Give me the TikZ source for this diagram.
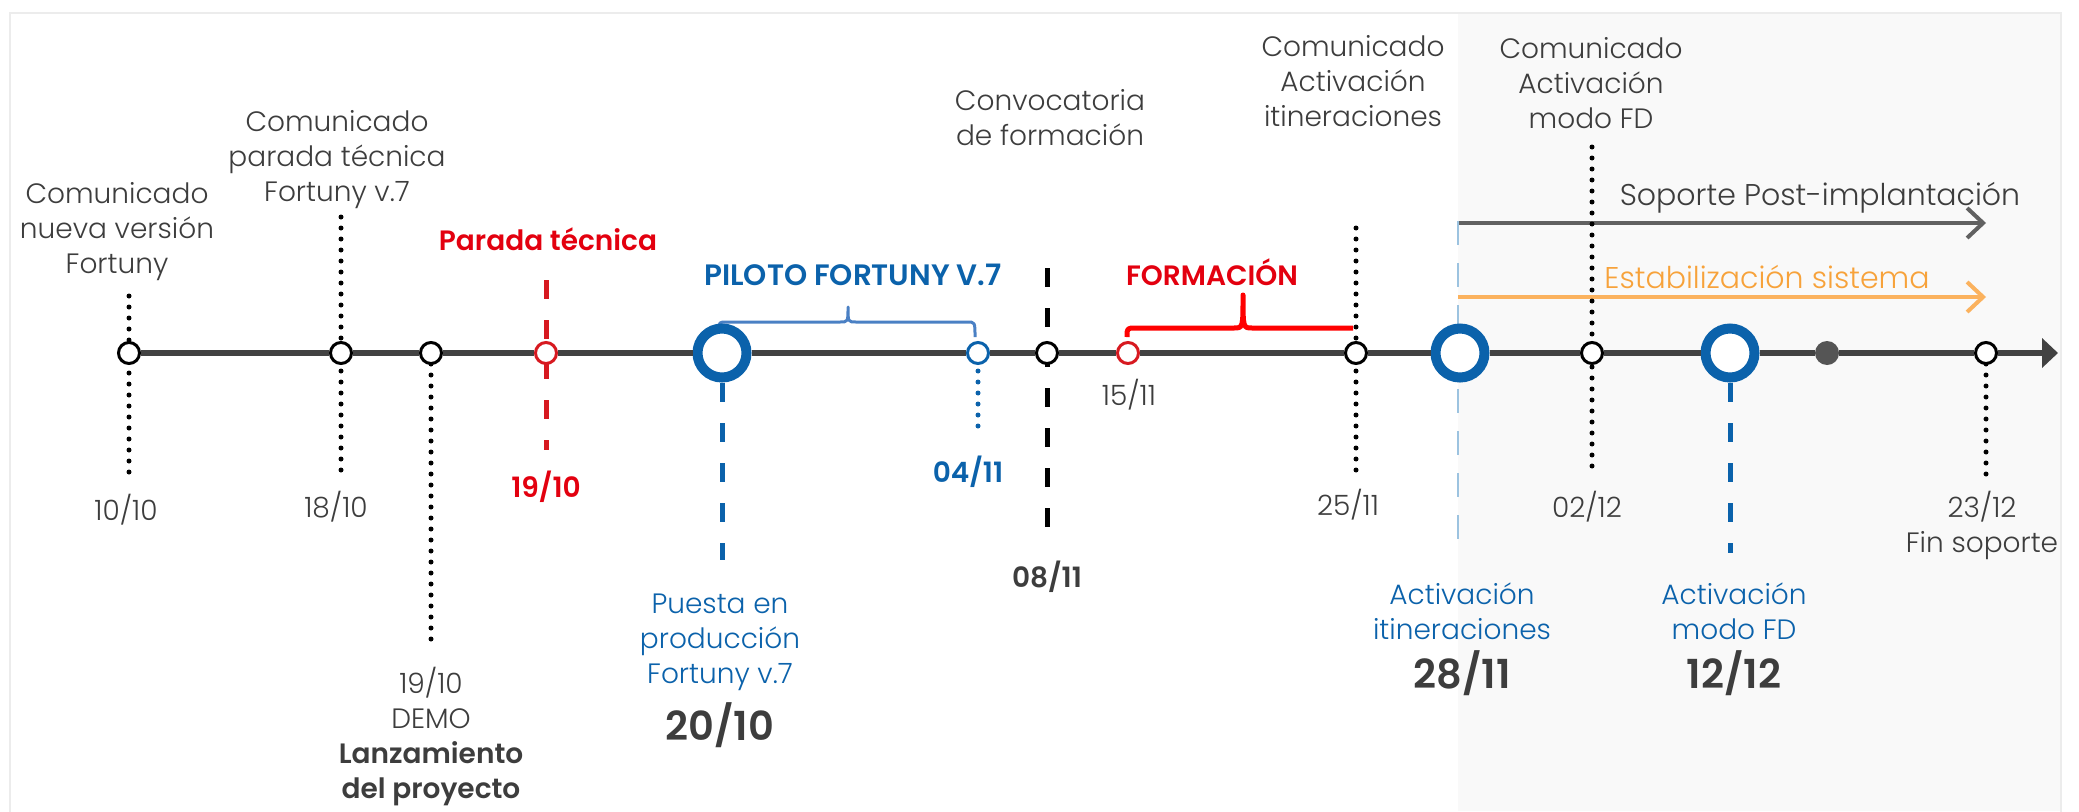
\documentclass[tikz,border=0pt]{standalone}
\usepackage{fontspec}
\setmainfont{Poppins}[UprightFont={* Light},BoldFont={* SemiBold}]
\usetikzlibrary{arrows.meta}
\definecolor{tgray}{HTML}{3D3D3D}
\definecolor{lgray}{HTML}{424242}
\definecolor{fblue}{HTML}{0B62AB}
\definecolor{bblue}{HTML}{4A80C4}
\definecolor{pale}{HTML}{9CC3E0}
\definecolor{tred}{HTML}{E3000F}
\definecolor{bred}{HTML}{FF0000}
\definecolor{cred}{HTML}{D71920}
\definecolor{orgt}{HTML}{F7A23A}
\definecolor{orga}{HTML}{FBB25E}
\definecolor{agray}{HTML}{616161}
\definecolor{dgray}{HTML}{555555}
\definecolor{bg}{HTML}{F9F9F9}
\definecolor{frame}{HTML}{ECECEC}
\begin{document}
\begin{tikzpicture}[x=1pt,y=-1pt,
  lab/.style={text=tgray,font=\fontsize{28pt}{35pt}\selectfont,align=center,inner sep=0pt},
  blab/.style={lab,font=\fontsize{28pt}{35pt}\selectfont\bfseries},
  bigdate/.style={lab,font=\fontsize{40pt}{48pt}\selectfont\bfseries},
  smallc/.style={circle,draw=black,line width=3pt,fill=white,minimum size=21pt,inner sep=0pt},
  bigc/.style={circle,draw=fblue,line width=10pt,fill=white,minimum size=49pt,inner sep=0pt},
  dotline/.style={line width=5pt,line cap=round,dash pattern=on 0pt off 11pt},
  dashline/.style={line width=5pt,dash pattern=on 19pt off 21pt},
  tl/.style={line width=6pt,draw=lgray,-{Triangle[length=16pt,width=29pt]}},
  spanarrow/.style={line width=4pt,-{Straight Barb[length=16pt,width=30pt]}}
]
\useasboundingbox (0,0) rectangle (2079,811);
% background
\fill[white] (0,0) rectangle (2079,811);
\fill[bg] (1458,13) rectangle (2061,811);
\draw[frame,line width=1.5pt] (10,13) rectangle (2061,830);

% coordinates
\coordinate (tip) at (2058,353);
\coordinate (t1010) at (129,296);
\coordinate (b1010) at (129,477);
\coordinate (t1810) at (341,217);
\coordinate (b1810) at (341,477);
\coordinate (bdemo) at (431,648);
\coordinate (tpar) at (546,280);
\coordinate (bpar) at (546,450);
\coordinate (b2010) at (722,560);
\coordinate (b0411) at (978,435);
\coordinate (t0811) at (1047,268);
\coordinate (b0811) at (1047,545);
\coordinate (t2511) at (1356,228);
\coordinate (b2511) at (1356,475);
\coordinate (t2811) at (1458,221);
\coordinate (b2811) at (1458,555);
\coordinate (t0212) at (1592,147);
\coordinate (b0212) at (1592,477);
\coordinate (b1212) at (1730,553);
\coordinate (b2312) at (1986,477);
\coordinate (sopS) at (1458,223);
\coordinate (sopE) at (1986,223);
\coordinate (estS) at (1458,297);
\coordinate (estE) at (1986,297);

% span arrows
\draw[spanarrow,agray] (sopS) -- (sopE);
\draw[spanarrow,orga] (estS) -- (estE);

% vertical connectors
\draw[dotline] (t1010) -- (129,353) -- (b1010);
\draw[dotline] (t1810) -- (341,353) -- (b1810);
\draw[dotline] (431,353) -- (bdemo);
\draw[dashline,cred] (tpar) -- (bpar);
\draw[dashline,fblue] (722,383) -- (b2010);
\draw[dotline,fblue] (978,371) -- (b0411);
\draw[dashline,black] (t0811) -- (b0811);
\draw[dotline] (t2511) -- (b2511);
\draw[line width=1.5pt,pale,dash pattern=on 24pt off 18pt] (t2811) -- (b2811);
\draw[dotline] (t0212) -- (b0212);
\draw[dashline,fblue] (1730,383) -- (b1212);
\draw[dotline] (1986,353) -- (b2312);

% braces
\draw[bblue,line width=3pt,line join=round]
  (719,330) .. controls (719,322) .. (727,322) -- (840,322)
  .. controls (848,322) .. (848,307) .. controls (848,322) .. (856,322)
  -- (967,322) .. controls (975,322) .. (975,337);
\draw[bred,line width=5pt,line join=round]
  (1127,337) .. controls (1127,328) .. (1136,328) -- (1234,328)
  .. controls (1243,328) .. (1243,295) .. controls (1243,328) .. (1252,328)
  -- (1353,328);

% circles
\node[smallc] (c1010) at (129,353) {};
\node[smallc] (c1810) at (341,353) {};
\node[smallc] (cdemo) at (431,353) {};
\node[smallc,draw=cred] (cpar) at (546,353) {};
\node[bigc] (c2010) at (722,353) {};
\node[smallc,draw=fblue] (c0411) at (978,353) {};
\node[smallc] (c0811) at (1047,353) {};
\node[smallc,draw=cred] (c1511) at (1128,353) {};
\node[smallc] (c2511) at (1356,353) {};
\node[bigc] (c2811) at (1460,353) {};
\node[smallc] (c0212) at (1592,353) {};
\node[bigc] (c1212) at (1730,353) {};
\node[circle,fill=dgray,minimum size=24pt,inner sep=0pt] (cdot) at (1827,353) {};
\node[smallc] (c2312) at (1986,353) {};

% timeline segments between circles
\begin{scope}[line width=6pt]
\draw[lgray] (c1010) -- (c1810);
\draw[lgray] (c1810) -- (cdemo);
\draw[lgray] (cdemo) -- (cpar);
\draw[lgray] (cpar) -- (c2010);
\draw[lgray] (c2010) -- (c0411);
\draw[lgray] (c0411) -- (c0811);
\draw[lgray] (c0811) -- (c1511);
\draw[lgray] (c1511) -- (c2511);
\draw[lgray] (c2511) -- (c2811);
\draw[lgray] (c2811) -- (c0212);
\draw[lgray] (c0212) -- (c1212);
\draw[lgray] (c1212) -- (cdot);
\draw[lgray] (cdot) -- (c2312);
\end{scope}
\draw[tl] (c2312) -- (tip);

% texts
\node[lab] (n1010) at (117,232) {Comunicado\\nueva versión\\Fortuny};
\node[lab] (d1010) at (126,510) {10/10};
\node[lab] (n1810) at (337,160) {Comunicado\\parada técnica\\Fortuny v.7};
\node[lab] (d1810) at (336,507) {18/10};
\node[lab] (ndemo) at (431,737) {19/10\\DEMO\\\textbf{Lanzamiento}\\\textbf{del proyecto}};
\node[blab,text=tred] (npar) at (548,239) {Parada técnica};
\node[blab,text=tred] (dpar) at (546,487) {19/10};
\node[lab,text=fblue] (n2010) at (720,642) {Puesta en\\producción\\Fortuny v.7};
\node[bigdate] (d2010) at (720,725) {20/10};
\node[blab,text=fblue,font=\fontsize{29.5pt}{35pt}\selectfont\bfseries] (npil) at (853,275) {PILOTO FORTUNY V.7};
\node[blab,text=fblue] (d0411) at (968,472) {04/11};
\node[lab] (n0811) at (1050,118) {Convocatoria\\de formación};
\node[blab] (d0811) at (1047,577) {08/11};
\node[lab] (d1511) at (1129,395) {15/11};
\node[blab,text=tred] (nfor) at (1212,272) {FORMACIÓN};
\node[lab] (n2511) at (1353,81) {Comunicado\\Activación\\itineraciones};
\node[lab] (d2511) at (1348,505) {25/11};
\node[lab,text=fblue] (n2811) at (1462,611) {Activación\\itineraciones};
\node[bigdate] (d2811) at (1462,673) {28/11};
\node[lab] (n0212) at (1591,83) {Comunicado\\Activación\\modo FD};
\node[lab] (d0212) at (1587,507) {02/12};
\node[lab,text=fblue] (n1212) at (1734,611) {Activación\\modo FD};
\node[bigdate] (d1212) at (1734,673) {12/12};
\node[lab] (d2312) at (1982,525) {23/12\\Fin soporte};
\node[lab,font=\fontsize{30pt}{35pt}\selectfont] (nsop) at (1820,198) {Soporte Post-implantación};
\node[lab,text=orgt,font=\fontsize{30pt}{35pt}\selectfont] (nest) at (1767,277) {Estabilización sistema};
\end{tikzpicture}
\end{document}
